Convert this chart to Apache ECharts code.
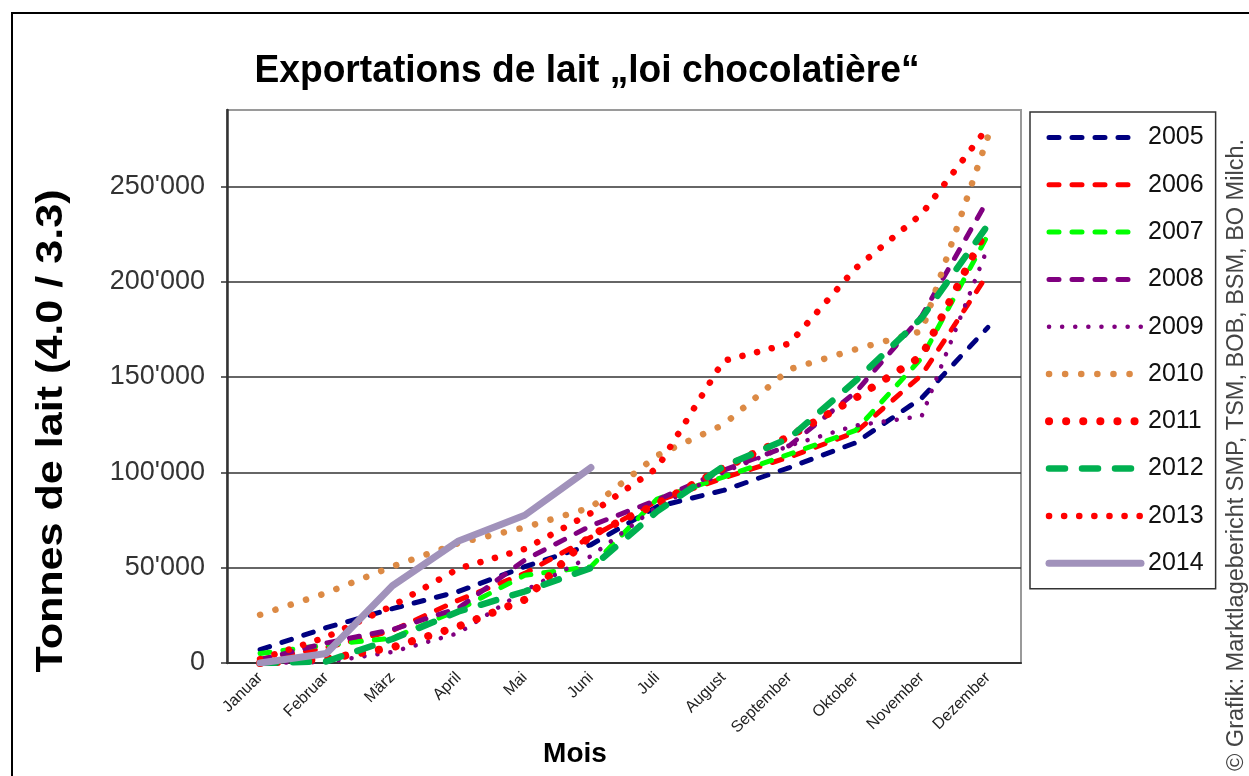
<!DOCTYPE html>
<html style="height: 100%">
<head>
<meta charset="utf-8">
<title>Exportations de lait</title>
</head>
<body style="height: 100%; margin: 0; background: #fff">
<div id="container" style="width: 1249px; height: 776px"></div>
<script src="https://cdn.jsdelivr.net/npm/echarts@6/dist/echarts.min.js"></script>
<script>
var months = ['Januar', 'Februar', 'März', 'April', 'Mai', 'Juni', 'Juli', 'August', 'September', 'Oktober', 'November', 'Dezember'];
var years = ['2005', '2006', '2007', '2008', '2009', '2010', '2011', '2012', '2013', '2014'];

var y2005 = [7000, 18500, 28500, 37500, 50500, 62000, 82000, 90500, 102500, 115500, 139000, 176000];
var y2006 = [2000, 8000, 17000, 33000, 47000, 66000, 85000, 97000, 108000, 121000, 151000, 204000];
var y2007 = [5000, 9500, 13000, 28000, 46000, 50500, 86000, 97500, 109500, 122000, 160000, 224500];
var y2008 = [1700, 10500, 17500, 28800, 54000, 72000, 85500, 101000, 114000, 142000, 182000, 243000];
var y2009 = [0, 500, 5800, 15700, 38000, 56000, 82000, 100000, 114000, 124500, 129500, 218000];
var y2010 = [25300, 36700, 50600, 62900, 71100, 81600, 108800, 124900, 154000, 164500, 174000, 276000];
var y2011 = [0, 2100, 8200, 19200, 33200, 67000, 83500, 102200, 118800, 139000, 161000, 228800];
var y2012 = [0, 800, 12600, 27000, 37500, 49800, 79500, 103000, 118000, 148000, 181000, 229700];
var y2013 = [2000, 13600, 30000, 49500, 59800, 78600, 102200, 158400, 167500, 207000, 235500, 281000];
var y2014 = [0, 5000, 40500, 64000, 77500, 102500];

var font = 'Liberation Sans, Arial, sans-serif';

// line looks per year: color, width, dash pattern
var looks = {
    '2005': ['#000080', 5, [10, 13]],
    '2006': ['#ff0000', 5, [10, 13]],
    '2007': ['#00ff00', 5, [10, 13]],
    '2008': ['#800080', 5, [10, 13]],
    '2009': ['#800080', 4.5, [0.1, 13]],
    '2010': ['#dc8a45', 6.5, [0.1, 16]],
    '2011': ['#ff0000', 8, [0.1, 17]],
    '2012': ['#00b050', 6.5, [16, 17]],
    '2013': ['#ff0000', 6.5, [0.1, 15]],
    '2014': ['#a192bb', 7, 'solid']
};
var values = [y2005, y2006, y2007, y2008, y2009, y2010, y2011, y2012, y2013, y2014];

var series = years.map(function (y, i) {
    var l = looks[y];
    return {
        name: y,
        type: 'line',
        data: values[i],
        symbol: 'none',
        lineStyle: { color: l[0], width: l[1], type: l[2], cap: 'round' },
        itemStyle: { color: l[0] }
    };
});

// text widths from the picture, used to stretch the bold texts
var ctx = document.createElement('canvas').getContext('2d');
function fit(text, f, w) {
    ctx.font = f;
    return w / ctx.measureText(text).width;
}
var title = 'Exportations de lait \u201Eloi chocolati\u00e8re\u201C';
var titleFont = 'bold 38px ' + font;
var yName = 'Tonnes de lait (4.0 / 3.3)';
var yNameFont = 'bold 37px ' + font;

var dom = document.getElementById('container');
var myChart = echarts.init(dom);
var option = {
    animation: false,
    backgroundColor: '#fff',
    grid: { left: 227, right: 228, top: 110, bottom: 113, show: true, borderColor: '#9a9a9a', borderWidth: 2 },
    legend: {
        orient: 'vertical',
        left: 1030,
        top: 112,
        data: years,
        itemWidth: 92,
        itemHeight: 14,
        itemGap: 22.3,
        padding: [13, 12, 13, 15],
        borderColor: '#333',
        borderWidth: 1.5,
        itemStyle: { opacity: 0 },
        lineStyle: { width: 'inherit' },
        textStyle: { fontSize: 25, color: '#111', fontFamily: font, padding: [0, 0, 0, 2] }
    },
    xAxis: {
        type: 'category',
        data: months,
        boundaryGap: true,
        axisLine: { lineStyle: { color: '#333', width: 2 } },
        axisTick: { length: 7, lineStyle: { color: '#333', width: 1.5 } },
        axisLabel: { rotate: 45, interval: 0, fontSize: 16, color: '#222', margin: 12, fontFamily: font }
    },
    yAxis: {
        type: 'value',
        min: 0,
        max: 290000,
        interval: 50000,
        axisLine: { show: true, lineStyle: { color: '#333', width: 2.5 } },
        axisTick: { show: true, length: 6, lineStyle: { color: '#333', width: 1.5 } },
        axisLabel: {
            fontSize: 27, color: '#333', margin: 22, fontFamily: font, showMaxLabel: false,
            formatter: function (v) { return v === 0 ? '0' : (v / 1000) + '\'000'; }
        },
        splitLine: { showMaxLine: false, lineStyle: { color: '#333', width: 1.5 } }
    },
    graphic: [
        { type: 'rect', shape: { x: 12, y: 13, width: 1400, height: 900 }, style: { fill: 'none', stroke: '#000', lineWidth: 2 }, z: 100 },
        { type: 'text', x: 587, y: 72, scaleX: fit(title, titleFont, 665),
          style: { text: title, font: titleFont, fill: '#000', align: 'center', verticalAlign: 'middle' } },
        { type: 'text', x: 52, y: 431, rotation: Math.PI / 2, scaleX: fit(yName, yNameFont, 483),
          style: { text: yName, font: yNameFont, fill: '#000', align: 'center', verticalAlign: 'middle' } },
        { type: 'text', x: 575, y: 754,
          style: { text: 'Mois', font: 'bold 28px ' + font, fill: '#000', align: 'center', verticalAlign: 'middle' } },
        { type: 'text', x: 1237, y: 455, rotation: Math.PI / 2,
          style: { text: '\u00a9 Grafik: Marktlagebericht SMP, TSM, BOB, BSM, BO Milch.', font: '23.5px ' + font, fill: '#444', align: 'center', verticalAlign: 'middle' } }
    ],
    series: series
};
myChart.setOption(option);
</script>
</body>
</html>
